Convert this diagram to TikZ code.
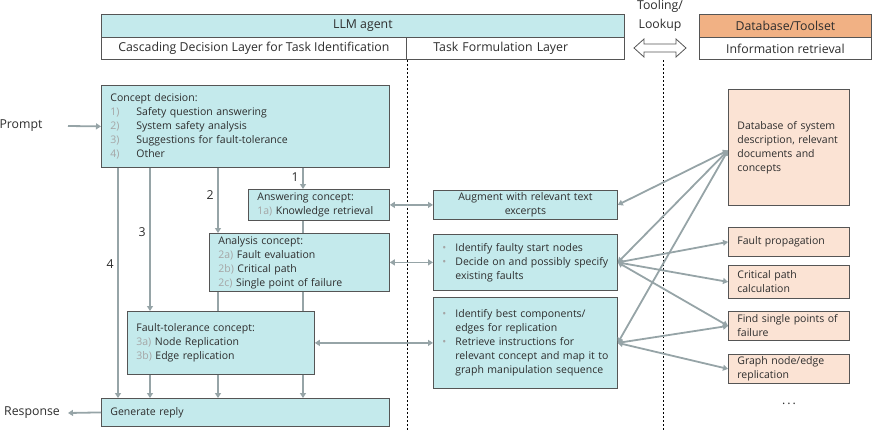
\documentclass[tikz,border=0pt]{standalone}
\usepackage{fontspec}
\setmainfont{Open Sans}
\usetikzlibrary{arrows.meta}

\definecolor{agent}{RGB}{196,234,236}
\definecolor{toolhead}{RGB}{241,177,132}
\definecolor{toolbox}{RGB}{251,227,212}
\definecolor{frame}{RGB}{85,85,85}
\definecolor{link}{RGB}{150,164,167}
\definecolor{num}{RGB}{165,165,165}
\definecolor{txt}{RGB}{45,45,45}

\newcommand{\nr}[1]{\makebox[26pt][l]{\textcolor{num}{#1}}}
\newcommand{\sub}[1]{\textcolor{num}{#1}}
\newcommand{\bl}{\makebox[15pt][l]{\hspace{2pt}\textcolor{num}{\textbullet}}}

\tikzset{
  box/.style={draw=frame, fill=agent, line width=0.8pt, anchor=north west,
    align=left, inner xsep=9pt, inner ysep=0pt, text=txt,
    font=\fontsize{10.5}{14}\selectfont},
  taskbox/.style={box, inner xsep=7pt, text width=170pt},
  dbbox/.style={box, fill=toolbox, text width=103pt},
  head/.style={draw=frame, fill=agent, line width=0.8pt, anchor=north west,
    inner sep=0pt, text=txt, font=\fontsize{12.3}{14}\selectfont},
  flow/.style={draw=link, line width=1.8pt, -{Triangle[width=6pt,length=5pt]}},
  pass/.style={draw=link, line width=1.8pt},
  twoway/.style={draw=link, line width=1.8pt,
    {Triangle[width=6pt,length=5pt]}-{Triangle[width=6pt,length=5pt]}},
  layer/.style={dash pattern=on 2pt off 2pt, line width=0.6pt},
  lbl/.style={text=txt, font=\fontsize{12.3}{14}\selectfont}
}

\begin{document}
\begin{tikzpicture}[x=1pt, y=-1pt]
\useasboundingbox (0,0) rectangle (872,431);

% header
\node[head, minimum width=523pt, minimum height=23pt] (llm) at (101,14) {LLM agent};
\node[head, fill=white, minimum width=305pt, minimum height=22pt] (cdl) at (101,37)
  {Cascading Decision Layer for Task Identification};
\node[head, fill=white, minimum height=22pt, text width=164pt, inner xsep=27pt,
  align=left] (tfl) at (406,37) {Task Formulation Layer};
\node[head, fill=toolhead, minimum width=172pt, minimum height=23pt] (dbh) at (699,14)
  {Database/Toolset};
\node[head, fill=white, minimum width=172pt, minimum height=22pt] (ir) at (699,37)
  {Information retrieval};
\node[lbl, align=center, font=\fontsize{12.3}{19}\selectfont] (look) at (660,16)
  {Tooling/\\Lookup};
\draw[frame, line width=0.8pt, fill=white] (634,48) -- (644,39) -- (644,44) -- (676,44)
  -- (676,39) -- (686,48) -- (676,57) -- (676,52) -- (644,52) -- (644,57) -- cycle;

% layers
\coordinate (bot) at (0,431);
\coordinate (tl) at (663,60);
\draw[layer] (cdl.south east) -- (cdl.south east |- bot);
\draw[layer] (tl) -- (tl |- bot);

% cascading decision nodes
\node[box, text width=270pt, minimum height=82pt] (cd) at (101,85)
  {Concept decision:\\
   \nr{1)}Safety question answering\\
   \nr{2)}System safety analysis\\
   \nr{3)}Suggestions for fault-tolerance\\
   \nr{4)}Other};
\node[box, text width=123pt, minimum height=31pt] (ans) at (248,189)
  {Answering concept:\\ \sub{1a)} Knowledge retrieval};
\node[box, text width=162pt, minimum height=58pt] (an) at (209,233)
  {Analysis concept:\\ \sub{2a)} Fault evaluation\\ \sub{2b)} Critical path\\
   \sub{2c)} Single point of failure};
\node[box, text width=169pt, minimum height=63pt] (ft) at (127,311)
  {Fault-tolerance concept:\\ \sub{3a)} Node Replication\\ \sub{3b)} Edge replication};
\node[box, text width=270pt, minimum height=28pt] (rep) at (101,398) {Generate reply};
\node[lbl] (prompt) at (21,126) {Prompt};
\node[lbl] (resp) at (32,413) {Response};

% task formulation nodes
\node[taskbox, align=center, minimum height=29pt] (aug) at (433,190)
  {Augment with relevant text\\excerpts};
\node[taskbox, minimum height=56pt] (tf2) at (433,234)
  {\bl Identify faulty start nodes\\
   \bl Decide on and possibly specify\\
   \hspace*{15pt}existing faults};
\node[taskbox, minimum height=91pt] (tf3) at (433,297)
  {\bl Identify best components/\\
   \hspace*{15pt}edges for replication\\
   \bl Retrieve instructions for\\
   \hspace*{15pt}relevant concept and map it to\\
   \hspace*{15pt}graph manipulation sequence};

% database nodes
\node[dbbox, minimum height=116pt] (db) at (728,89)
  {Database of system\\description, relevant\\documents and\\concepts};
\node[dbbox, minimum height=29pt] (fp) at (728,227) {Fault propagation};
\node[dbbox, minimum height=33pt] (cp) at (728,265) {Critical path\\calculation};
\node[dbbox, minimum height=29pt] (sp) at (728,311) {Find single points of\\failure};
\node[dbbox, minimum height=29pt] (gr) at (728,354) {Graph node/edge\\replication};
\node[lbl] (more) at (789,404) {.\,.\,.};

% cascade arrows
\coordinate (x4) at (118,0);
\coordinate (x3) at (150,0);
\coordinate (x2) at (218,0);
\coordinate (x1) at (303,0);
\draw[flow] (prompt.east -| 68,0) -- (cd.west);
\draw[flow] (rep.west) -- (resp.east -| 68,0);
\draw[flow] (cd.south -| x1) -- (ans.north -| x1) node[lbl, pos=0.45, left] {1};
\draw[pass] (ans.south -| x1) -- (an.north -| x1);
\draw[pass] (an.south -| x1) -- (ft.north -| x1);
\draw[flow] (ft.south -| x1) -- (rep.north -| x1);
\draw[flow] (cd.south -| x2) -- (an.north -| x2) node[lbl, pos=0.42, left] {2};
\draw[pass] (an.south -| x2) -- (ft.north -| x2);
\draw[flow] (ft.south -| x2) -- (rep.north -| x2);
\draw[flow] (cd.south -| x3) -- (ft.north -| x3) node[lbl, pos=0.45, left] {3};
\draw[flow] (ft.south -| x3) -- (rep.north -| x3);
\draw[flow] (cd.south -| x4) -- (rep.north -| x4) node[lbl, pos=0.42, left] {4};

% task arrows
\draw[twoway] (ans.east) -- (aug.west);
\draw[twoway] (an.east) -- (tf2.west);
\draw[twoway] (ft.east) -- (tf3.west);

% lookup arrows
\draw[twoway] ([yshift=-3pt]db.west) -- (aug.east);
\draw[twoway] ([yshift=-3pt]db.west) -- (tf2.east);
\draw[twoway] ([yshift=-3pt]db.west) -- (tf3.east);
\draw[twoway] (tf2.east) -- (fp.west);
\draw[twoway] (tf2.east) -- (cp.west);
\draw[twoway] (tf2.east) -- (sp.west);
\draw[twoway] (tf3.east) -- (sp.west);
\draw[twoway] (tf3.east) -- (gr.west);
\end{tikzpicture}
\end{document}
